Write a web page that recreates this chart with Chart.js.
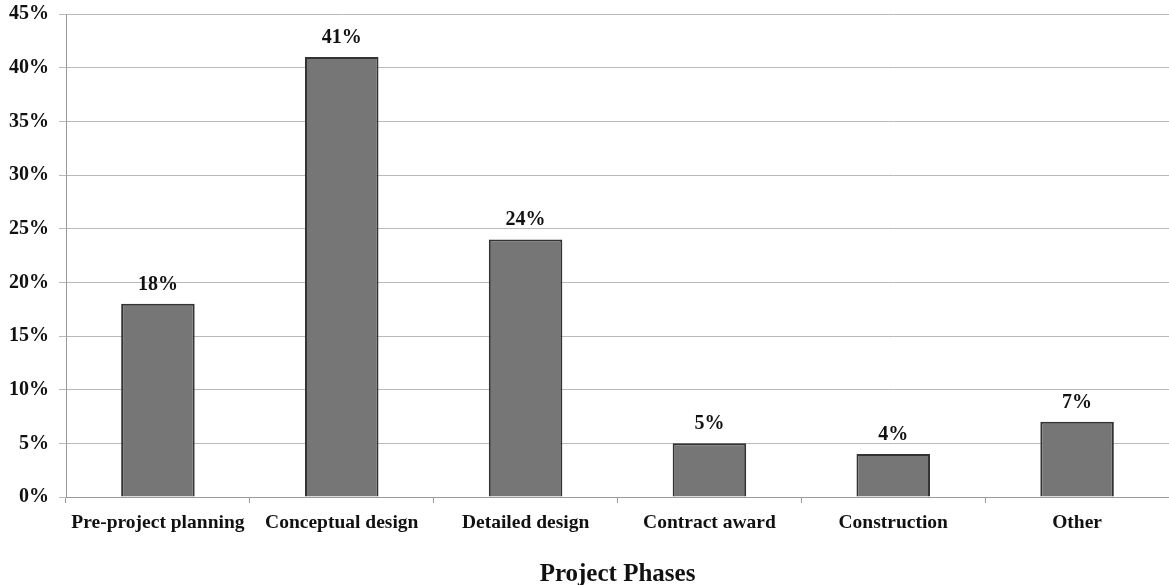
<!DOCTYPE html>
<html>
<head>
<meta charset="utf-8">
<script src="https://cdn.jsdelivr.net/npm/chart.js@4/dist/chart.umd.min.js"></script>
<style>
  html, body { margin: 0; padding: 0; background: #ffffff; }
  #wrap { width: 1169px; height: 585px; }
</style>
</head>
<body>
<div id="wrap"><canvas id="c" width="1169" height="585"></canvas></div>
<script>
// Share of responses by project phase (percent)
const phases = ['Pre-project planning', 'Conceptual design', 'Detailed design', 'Contract award', 'Construction', 'Other'];
const shares = [18, 41, 24, 5, 4, 7];
const yTicks = [0, 5, 10, 15, 20, 25, 30, 35, 40, 45];
const axisTitle = 'Project Phases';

const serif = '"Liberation Serif", "Times New Roman", serif';

// Writes the percentage above each bar, positioned through the bar's scale
const valueLabels = {
  id: 'valueLabels',
  afterDatasetsDraw(chart) {
    const { ctx } = chart;
    const meta = chart.getDatasetMeta(0);
    ctx.save();
    ctx.font = 'bold 20px ' + serif;
    ctx.fillStyle = '#111111';
    ctx.textAlign = 'center';
    ctx.textBaseline = 'alphabetic';
    meta.data.forEach((bar, i) => {
      ctx.fillText(shares[i] + '%', bar.x, bar.y - 14);
    });
    ctx.restore();
  }
};

new Chart(document.getElementById('c'), {
  type: 'bar',
  data: {
    labels: phases,
    datasets: [{
      data: shares,
      backgroundColor: '#767676',
      borderColor: '#333333',
      borderWidth: 2,
      barPercentage: 0.8,
      categoryPercentage: 0.5
    }]
  },
  options: {
    responsive: false,
    devicePixelRatio: 1,
    animation: false,
    layout: { padding: 0 },
    plugins: {
      legend: { display: false },
      tooltip: { enabled: false }
    },
    scales: {
      x: {
        offset: true,
        grid: {
          offset: true,
          drawOnChartArea: false,
          drawTicks: true,
          tickLength: 6,
          color: '#9a9a9a'
        },
        border: { display: true, color: '#9a9a9a', width: 1 },
        ticks: {
          color: '#111111',
          font: { family: serif, size: 19.5, weight: 'bold' },
          padding: 8,
          maxRotation: 0,
          autoSkip: false
        },
        title: {
          display: true,
          text: axisTitle,
          color: '#111111',
          font: { family: serif, size: 25, weight: 'bold', lineHeight: 0.8 },
          padding: { top: 0, bottom: 0 }
        },
        afterFit(scale) { scale.height = 88; }
      },
      y: {
        min: 0,
        max: 45,
        afterBuildTicks(scale) { scale.ticks = yTicks.map(v => ({ value: v })); },
        grid: {
          color: '#b9b9b9',
          lineWidth: 1,
          drawTicks: true,
          tickLength: 7
        },
        border: { display: true, color: '#9a9a9a', width: 1 },
        ticks: {
          color: '#111111',
          font: { family: serif, size: 20, weight: 'bold' },
          padding: 10,
          callback: v => v + '%'
        },
        afterFit(scale) {
          scale.width = 66;
          scale.paddingTop = 14;
          scale.paddingBottom = 0;
        }
      }
    }
  },
  plugins: [valueLabels]
});
</script>
</body>
</html>
